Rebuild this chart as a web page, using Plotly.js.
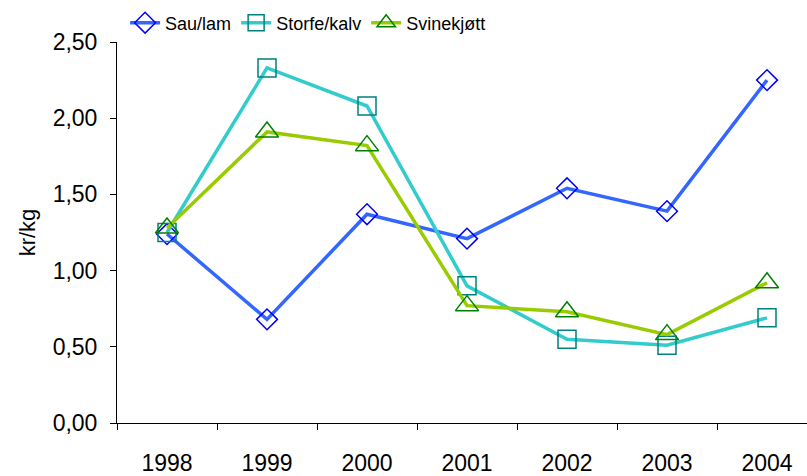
<!DOCTYPE html>
<html>
<head>
<meta charset="utf-8">
<script src="https://cdn.plot.ly/plotly-3.0.1.min.js"></script>
<style>html,body{margin:0;padding:0;background:#fff;}#chart{width:807px;height:476px;}</style>
</head>
<body>
<div id="chart"></div>
<script>
var years = ["1998", "1999", "2000", "2001", "2002", "2003", "2004"];
var sauLam = [1.24, 0.68, 1.37, 1.21, 1.54, 1.39, 2.25];
var storfeKalv = [1.25, 2.33, 2.08, 0.90, 0.55, 0.51, 0.69];
var svinekjott = [1.28, 1.91, 1.82, 0.77, 0.73, 0.58, 0.92];
var seriesNames = ["Sau/lam", "Storfe/kalv", "Svinekjøtt"];

var traces = [
  {x: years, y: sauLam, name: seriesNames[0], type: "scatter", mode: "lines+markers",
   line: {color: "#3366ff", width: 3.5},
   marker: {symbol: "diamond-open", size: 16, color: "#0000ff", line: {width: 1.5, color: "#0000ff"}}},
  {x: years, y: storfeKalv, name: seriesNames[1], type: "scatter", mode: "lines+markers",
   line: {color: "#33cccc", width: 3.5},
   marker: {symbol: "square-open", size: 18, color: "#008080", line: {width: 1.5, color: "#008080"}}},
  {x: years, y: svinekjott, name: seriesNames[2], type: "scatter", mode: "lines+markers",
   line: {color: "#99cc00", width: 3.5},
   marker: {symbol: "triangle-up-open", size: 20, color: "#008000", line: {width: 1.5, color: "#008000"}}}
];

var layout = {
  width: 807, height: 476,
  margin: {l: 117, r: 0, t: 41.5, b: 52.5, pad: 0},
  paper_bgcolor: "#ffffff", plot_bgcolor: "#ffffff",
  font: {family: "Arial, 'Liberation Sans', sans-serif", size: 23, color: "#000000"},
  separators: ", ",
  showlegend: true,
  legend: {orientation: "h", xref: "container", yref: "container", x: 0.155, y: 1 - 23/476,
           xanchor: "left", yanchor: "middle",
           font: {size: 18},
           bgcolor: "rgba(0,0,0,0)", itemwidth: 30, tracegroupgap: 0},
  xaxis: {type: "category", range: [-0.5, 6.4], showgrid: false, zeroline: false,
          showline: true, linecolor: "#000000", linewidth: 1,
          ticks: "outside", tickson: "boundaries", ticklen: 6, tickcolor: "#000000", tickwidth: 1,
          ticklabelstandoff: 19, tickfont: {size: 23}},
  yaxis: {range: [0, 2.5], dtick: 0.5, tick0: 0, tickformat: ".2f", showgrid: false, zeroline: false,
          showline: true, linecolor: "#000000", linewidth: 1,
          ticks: "outside", ticklen: 6, tickcolor: "#000000", tickwidth: 1,
          ticklabelstandoff: 8, tickfont: {size: 23},
          title: {text: "kr/kg", font: {size: 22}, standoff: 10}}
};

Plotly.newPlot("chart", traces, layout, {displayModeBar: false, staticPlot: true});
</script>
</body>
</html>
